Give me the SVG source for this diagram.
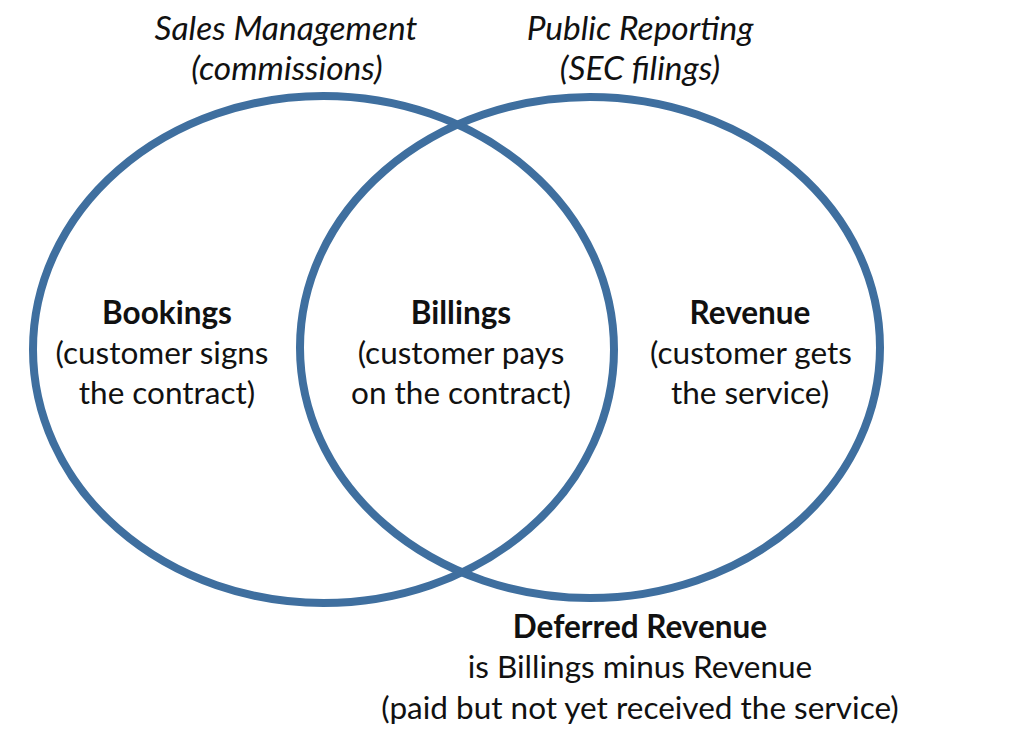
<svg xmlns="http://www.w3.org/2000/svg" width="1024" height="738" viewBox="0 0 1024 738">
<style>
.c{fill:none;stroke:#3f6f9f;stroke-width:8}
text{font-family:Lato,"Open Sans","Liberation Sans",sans-serif;fill:#111;text-anchor:middle}
.i{font-style:italic;font-size:33.5px}
.b{font-weight:bold;font-size:31.5px}
.n{font-size:31.5px}
</style>
<rect width="1024" height="738" fill="#ffffff"/>
<g id="connectors"></g>
<g id="sales-management">
<ellipse class="c" cx="323.5" cy="349.5" rx="290.5" ry="253.5"/>
<text class="i" x="286" y="40">Sales Management</text>
<text class="i" x="287" y="80">(commissions)</text>
</g>
<g id="public-reporting">
<ellipse class="c" cx="590" cy="347.5" rx="290" ry="250.5"/>
<text class="i" x="640" y="40">Public Reporting</text>
<text class="i" x="640" y="80">(SEC filings)</text>
</g>
<g id="bookings">
<text class="b" x="167" y="324">Bookings</text>
<text class="n" x="162" y="364">(customer signs</text>
<text class="n" x="167" y="404">the contract)</text>
</g>
<g id="billings">
<text class="b" x="461" y="324">Billings</text>
<text class="n" x="461" y="364">(customer pays</text>
<text class="n" x="461" y="404">on the contract)</text>
</g>
<g id="revenue">
<text class="b" x="750" y="324">Revenue</text>
<text class="n" x="751" y="364">(customer gets</text>
<text class="n" x="750" y="404">the service)</text>
</g>
<g id="deferred-revenue">
<text class="b" x="640" y="638">Deferred Revenue</text>
<text class="n" x="640" y="678">is Billings minus Revenue</text>
<text class="n" x="640" y="719">(paid but not yet received the service)</text>
</g>
</svg>
